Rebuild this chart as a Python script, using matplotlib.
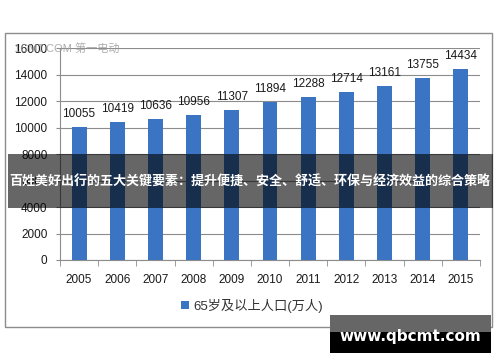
import matplotlib.pyplot as plt
from matplotlib.patches import Rectangle

plt.rcParams['font.family'] = ['Liberation Sans', 'Noto Sans CJK SC', 'DejaVu Sans']

# data
years = ['2005', '2006', '2007', '2008', '2009', '2010', '2011', '2012', '2013', '2014', '2015']
population = [10055, 10419, 10636, 10956, 11307, 11894, 12288, 12714, 13161, 13755, 14434]
series_name = '65岁及以上人口(万人)'
yticks = [0, 2000, 4000, 6000, 8000, 10000, 12000, 14000, 16000]
banner_text = '百姓美好出行的五大关键要素：提升便捷、安全、舒适、环保与经济效益的综合策略'

W, H = 500, 362
fig = plt.figure(figsize=(W / 100, H / 100), dpi=100)

def px(x0, y0, x1, y1):
    # pixel box (from top-left) -> figure fraction rectangle args
    return (x0 / W, 1 - y1 / H), (x1 - x0) / W, (y1 - y0) / H

# outer chart frame
xy, w, h = px(5, 33, 492, 327)
fig.patches.append(Rectangle(xy, w, h, transform=fig.transFigure, fill=False,
                             edgecolor='#8c8c8c', lw=1.0, zorder=0))

ax = fig.add_axes([60 / W, 1 - 260 / H, 420 / W, 212 / H])
x = range(len(years))
bars = ax.bar(x, population, width=0.39, color='#3a74c2', zorder=3)

for xi, v in zip(x, population):
    ax.annotate(str(v), (xi, v), xytext=(0, 5), textcoords='offset points',
                ha='center', va='bottom', fontsize=8.5, color='#1a1a1a')

ax.set_xlim(-0.5, len(years) - 0.5)
ax.set_ylim(0, 16000)
ax.set_yticks(yticks)
ax.set_yticklabels([str(t) for t in yticks], fontsize=8.5, color='#1a1a1a')
ax.set_xticks(x)
ax.set_xticklabels(years, fontsize=8.5, color='#1a1a1a')
ax.set_xticks([i - 0.5 for i in range(len(years) + 1)], minor=True)
ax.tick_params(axis='x', which='major', length=0, pad=10)
ax.tick_params(axis='x', which='minor', length=4, color='#8c8c8c', direction='out')
ax.tick_params(axis='y', length=3, color='#8c8c8c', pad=6)
ax.yaxis.grid(True, color='#8c8c8c', lw=0.8, zorder=0)
ax.set_axisbelow(True)
for s in ['top', 'right']:
    ax.spines[s].set_visible(False)
for s in ['left', 'bottom']:
    ax.spines[s].set_color('#8c8c8c')

ax.legend([bars], [series_name], loc='center', bbox_to_anchor=(0.457, -0.215),
          frameon=False, fontsize=9.5, handlelength=0.6, handleheight=0.6,
          handletextpad=0.3, labelcolor='#333333')

# top-left watermark
fig.text(14 / W, 1 - 48 / H, '1CMT.COM 第一电动', fontsize=8, color='#999999',
         alpha=0.8, va='center', ha='left')

# banner
xy, w, h = px(8, 154, 493, 208)
fig.patches.append(Rectangle(xy, w, h, transform=fig.transFigure,
                             facecolor='black', alpha=0.6, lw=0, zorder=10))
fig.text(250 / W, 1 - 182 / H, banner_text, fontsize=9.4, color='white',
         fontweight='bold', ha='center', va='center', zorder=11,
         family=['Noto Sans CJK SC', 'DejaVu Sans'])

# bottom-right watermark
xy, w, h = px(330, 315, 491, 332)
fig.patches.append(Rectangle(xy, w, h, transform=fig.transFigure,
                             facecolor='#666666', lw=0, zorder=10))
xy, w, h = px(330, 332, 491, 353)
fig.patches.append(Rectangle(xy, w, h, transform=fig.transFigure,
                             facecolor='black', lw=0, zorder=10))
fig.text(410 / W, 1 - 337 / H, 'www.qbcmt.com', fontsize=11, color='white',
         fontweight='bold', ha='center', va='center', zorder=11,
         family=['DejaVu Sans'])

fig.savefig('out.png', dpi=100)
